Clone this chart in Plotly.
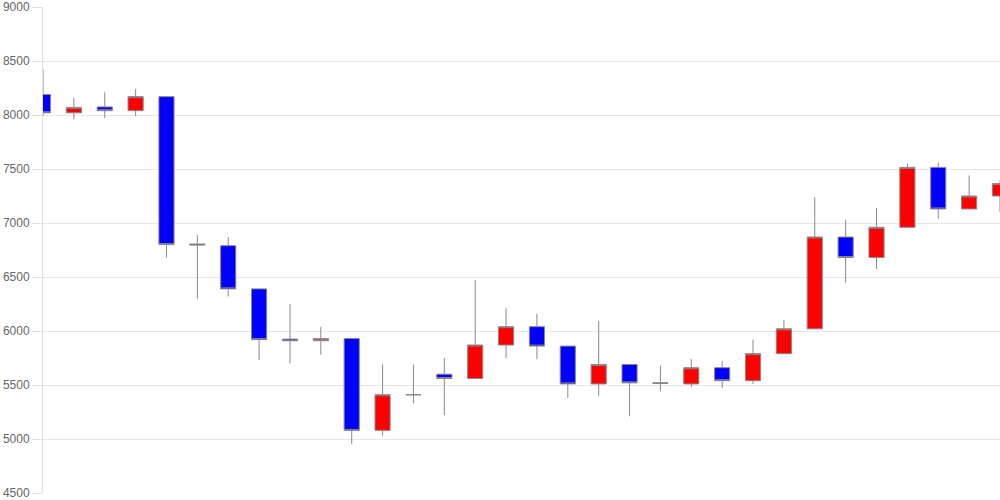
import plotly.graph_objects as go

# 日足データ (読み取り値)
days = list(range(32))
open_ = [8190, 8020, 8075, 8040, 8170, 6805, 6790, 6390, 5925, 5910,
         5930, 5080, 5410, 5600, 5560, 5870, 6040, 5860, 5510, 5690,
         5520, 5510, 5660, 5540, 5790, 6020, 6870, 6680, 6960, 7515,
         7130, 7250]
high = [8420, 8160, 8210, 8240, 8170, 6890, 6870, 6390, 6250, 6040,
        5930, 5690, 5690, 5750, 6470, 6210, 6160, 5860, 6090, 5690,
        5680, 5740, 5720, 5920, 6100, 7240, 7030, 7140, 7550, 7560,
        7440, 7395]
low = [7990, 7960, 7970, 7990, 6680, 6300, 6320, 5730, 5700, 5780,
       4955, 5030, 5330, 5220, 5560, 5750, 5740, 5380, 5400, 5210,
       5445, 5480, 5470, 5510, 5790, 6020, 6450, 6575, 6960, 7040,
       7130, 7100]
close = [8020, 8070, 8040, 8170, 6800, 6797, 6390, 5920, 5910, 5930,
         5080, 5410, 5410, 5560, 5870, 6040, 5860, 5510, 5690, 5520,
         5515, 5660, 5540, 5790, 6020, 6870, 6680, 6960, 7515, 7130,
         7250, 7365]

fig = go.Figure()

fig.add_trace(go.Candlestick(
    x=days,
    open=open_,
    high=high,
    low=low,
    close=close,
    increasing=dict(fillcolor='#ff0000', line=dict(color='#888888', width=1)),
    decreasing=dict(fillcolor='#0000ff', line=dict(color='#888888', width=1)),
    hoverinfo='skip',
    showlegend=False
))

fig.update_layout(
    width=1000,
    height=500,
    margin=dict(l=43, r=0, t=6, b=6),
    paper_bgcolor='white',
    plot_bgcolor='white',
    font=dict(family='Liberation Sans, Arial, sans-serif', size=12, color='#666666'),
    xaxis=dict(
        range=[0, 31],
        showticklabels=False,
        showgrid=False,
        zeroline=False,
        ticks='',
        rangeslider=dict(visible=False),
        fixedrange=True
    ),
    yaxis=dict(
        range=[4500, 9000],
        tickvals=[4500, 5000, 5500, 6000, 6500, 7000, 7500, 8000, 8500, 9000],
        ticks='outside',
        ticklen=10,
        tickcolor='#e0e0e0',
        ticklabeloverflow='allow',
        showline=True,
        linecolor='#e0e0e0',
        gridcolor='#e6e6e6',
        zeroline=False,
        fixedrange=True
    )
)

# ページの余白を消す
fig.write_html("out.html", config={'displayModeBar': False},
               post_script="document.body.style.margin='0';")
